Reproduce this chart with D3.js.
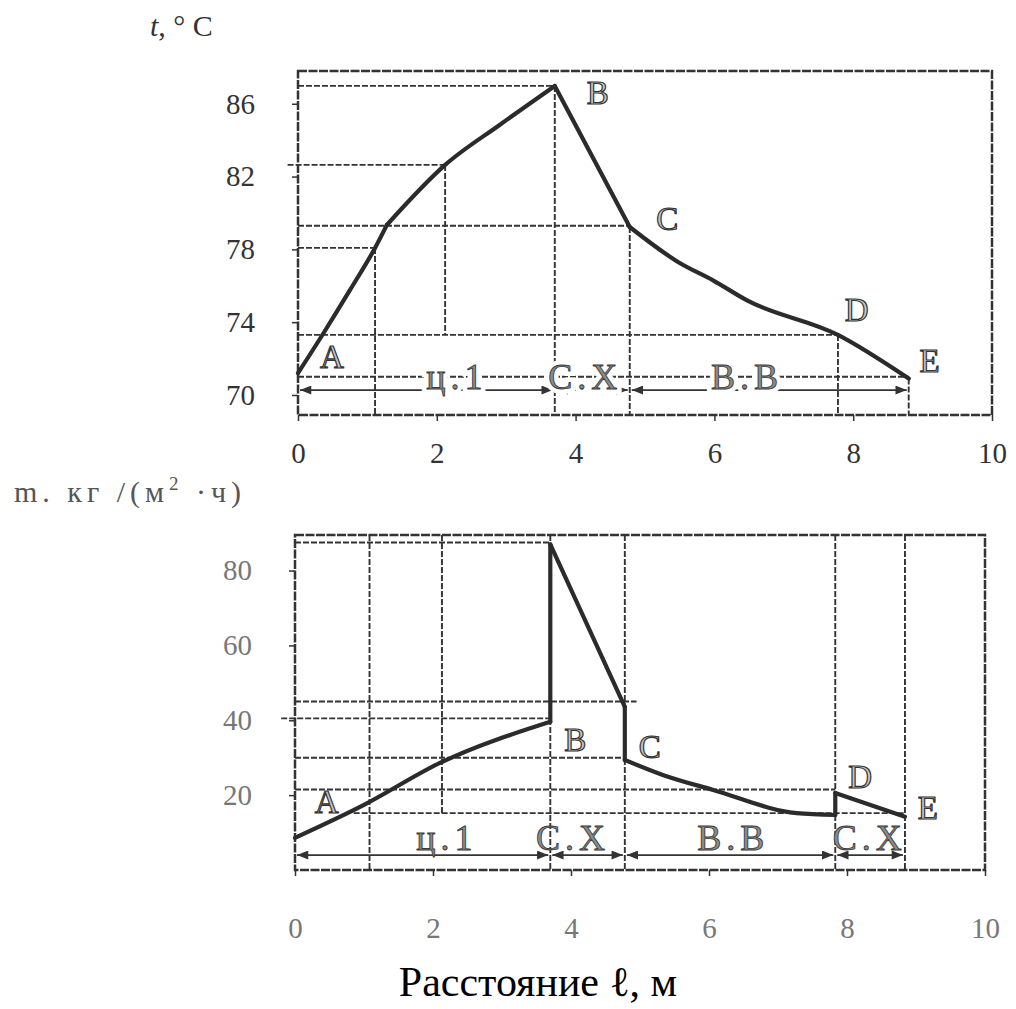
<!DOCTYPE html>
<html>
<head>
<meta charset="utf-8">
<script src="https://cdn.jsdelivr.net/npm/d3@7"></script>
<style>
  body { margin: 0; background: #fff; }
  svg text { font-family: "Liberation Serif", "Times New Roman", serif; }
</style>
</head>
<body>
<svg id="chart" width="1016" height="1009"></svg>
<script>
// distance along the dryer, m
var distTicks = [0, 2, 4, 6, 8, 10];

// upper plot: air temperature, °C
var tempX = [0, 0.36, 0.75, 1.11, 1.28, 2.12, 2.91, 3.7, 4.78, 5.5, 5.98, 6.47, 7.78, 8.8];
var tempY = [71.2, 73.35, 75.77, 78.08, 79.34, 82.64, 84.85, 86.98, 79.23, 77.25, 76.3, 75.2, 73.3, 70.9];
var tempBreaks = [0, 4, 7, 8, 13]; // indices where the curve has a corner
var tempTicks = [70, 74, 78, 82, 86];
// helper lines: [level, from, to]
var tempHLines = [[86.98, 0, 3.7], [82.64, -0.15, 2.12], [79.3, 0, 4.78], [78.08, 0, 1.11], [73.3, 0, 7.78], [71.0, 0, 8.8]];
// helper lines: [x, top, bottom]
var tempVLines = [[1.11, 78.08, 68.9], [2.12, 82.64, 73.3], [3.7, 86.98, 68.9], [4.78, 79.23, 68.9], [7.78, 73.3, 68.9], [8.8, 70.9, 68.9]];
var tempPointNames = ['A', 'B', 'C', 'D', 'E'];
var tempPointX = [0.49, 4.32, 5.32, 8.05, 9.1];
var tempPointY = [72.1, 86.6, 79.7, 74.7, 71.9];
var tempZones = [[0, 3.7], [3.7, 4.78], [4.78, 8.8]];
var tempZoneNames = ['ц.1', 'С.Х', 'В.В'];
var tempZoneX = [2.29, 4.14, 6.47];

// lower plot: evaporation rate m, kg/(m2·h)
var fluxX = [0, 1.0, 2.1, 3.7, 3.7, 4.78, 4.78, 5.33, 6.06, 7.27, 7.83, 7.83, 8.84];
var fluxY = [8.6, 17.4, 28.6, 39.6, 87, 43.6, 29.4, 25.4, 21.4, 15.2, 14.7, 20.6, 14.2];
var fluxBreaks = [0, 3, 4, 5, 6, 10, 11, 12];
var fluxTicks = [20, 40, 60, 80];
var fluxHLines = [[87.5, 0, 3.7], [45, 0, 4.95], [40.5, -0.2, 3.7], [30, 0, 4.78], [21.5, 0, 7.83], [15.2, 0.85, 8.84]];
var fluxVLines = [[1.08, 89.5, 0], [2.13, 89.5, 15.2], [3.7, 89.5, 0], [4.78, 89.5, 0], [7.83, 89.5, 0], [8.84, 89.5, 0]];
var fluxPointNames = ['A', 'B', 'C', 'D', 'E'];
var fluxPointX = [0.46, 4.06, 5.14, 8.19, 9.17];
var fluxPointY = [18.2, 34.8, 32.9, 24.9, 16.8];
var fluxZones = [[0, 3.7], [3.7, 4.78], [4.78, 7.83], [7.83, 8.84]];
var fluxZoneNames = ['ц.1', 'С.Х', 'В.В', 'С.Х'];
var fluxZoneX = [2.2, 4.03, 6.35, 8.33];

var svg = d3.select('#chart');
var ink = '#333';

var defs = svg.append('defs');
[['arrEnd', 'M0,0 L10,4 L0,8 Z'], ['arrStart', 'M10,0 L0,4 L10,8 Z']].forEach(function(m) {
  defs.append('marker').attr('id', m[0])
    .attr('viewBox', '0 0 10 8').attr('refX', m[0] === 'arrEnd' ? 10 : 0).attr('refY', 4)
    .attr('markerWidth', 12).attr('markerHeight', 9).attr('markerUnits', 'userSpaceOnUse')
    .attr('orient', 'auto')
    .append('path').attr('d', m[1]).attr('fill', ink);
});

var drawPanel = function(p) {
  var x = d3.scaleLinear().domain([0, 10]).range([p.left, p.right]);
  var y = d3.scaleLinear().domain(p.yDomain).range([p.bottom, p.top]);
  var g = svg.append('g');

  // helper lines
  g.selectAll('.hl').data(p.hLines).enter().append('line')
    .attr('x1', function(d) { return x(d[1]); }).attr('x2', function(d) { return x(d[2]); })
    .attr('y1', function(d) { return y(d[0]); }).attr('y2', function(d) { return y(d[0]); })
    .attr('stroke', ink).attr('stroke-width', 1.9).attr('stroke-dasharray', '6,2');
  g.selectAll('.vl').data(p.vLines).enter().append('line')
    .attr('x1', function(d) { return x(d[0]); }).attr('x2', function(d) { return x(d[0]); })
    .attr('y1', function(d) { return y(d[1]); }).attr('y2', function(d) { return y(d[2]); })
    .attr('stroke', ink).attr('stroke-width', 1.9).attr('stroke-dasharray', '6,2');

  // dimension line with arrows
  g.selectAll('.zone').data(p.zones).enter().append('line')
    .attr('x1', function(d) { return x(d[0]) + 2; }).attr('x2', function(d) { return x(d[1]) - 2; })
    .attr('y1', y(p.dimLevel)).attr('y2', y(p.dimLevel))
    .attr('stroke', ink).attr('stroke-width', 1.8)
    .attr('marker-start', 'url(#arrStart)').attr('marker-end', 'url(#arrEnd)');

  // frame
  g.append('rect').attr('x', p.left).attr('y', p.top)
    .attr('width', p.right - p.left).attr('height', p.bottom - p.top)
    .attr('fill', 'none').attr('stroke', ink).attr('stroke-width', 2.5)
    .attr('stroke-dasharray', '9,1.5');

  // the curve, smooth between corners
  var pts = p.xs.map(function(v, i) { return [x(v), y(p.ys[i])]; });
  var line = d3.line().curve(d3.curveMonotoneX);
  var pieces = d3.pairs(p.breaks).map(function(b) { return pts.slice(b[0], b[1] + 1); });
  g.selectAll('.piece').data(pieces).enter().append('path')
    .attr('d', line)
    .attr('fill', 'none').attr('stroke', '#2b2b2b').attr('stroke-width', 4.2)
    .attr('stroke-linecap', 'round').attr('stroke-linejoin', 'round');

  // axes
  var xAxis = g.append('g').attr('transform', 'translate(0,' + p.bottom + ')')
    .call(d3.axisBottom(x).tickValues(distTicks).tickSize(6).tickPadding(p.xPad));
  var yAxis = g.append('g').attr('transform', 'translate(' + p.left + ',0)')
    .call(d3.axisLeft(y).tickValues(p.yTicks).tickSize(6).tickPadding(37));
  [xAxis, yAxis].forEach(function(a) {
    a.select('.domain').remove();
    a.selectAll('line').attr('stroke', ink).attr('stroke-width', 1.5);
    a.attr('font-family', null).attr('font-size', null);
    a.selectAll('text').attr('font-size', 29).attr('fill', p.tickColor);
  });

  // zone names
  var zl = g.selectAll('.zn').data(p.zoneNames).enter().append('g')
    .attr('transform', function(d, i) { return 'translate(' + x(p.zoneX[i]) + ',' + y(p.zoneLevel) + ')'; });
  if (p.halo) {
    zl.append('text').text(function(d) { return d; })
      .attr('text-anchor', 'middle').attr('dy', '0.35em').attr('font-size', 36)
      .attr('letter-spacing', 5).attr('fill', '#fff').attr('stroke', '#fff').attr('stroke-width', 10);
  }
  zl.append('text').text(function(d) { return d; })
    .attr('text-anchor', 'middle').attr('dy', '0.35em').attr('font-size', 36)
    .attr('letter-spacing', 5).attr('fill', '#8c8c8c').attr('stroke', '#3a3a3a').attr('stroke-width', 0.9);

  // point letters
  g.selectAll('.pt').data(p.pointNames).enter().append('text')
    .text(function(d) { return d; })
    .attr('x', function(d, i) { return x(p.pointX[i]); })
    .attr('y', function(d, i) { return y(p.pointY[i]); })
    .attr('text-anchor', 'middle').attr('dy', '0.35em').attr('font-size', 33)
    .attr('fill', '#c8c8c8').attr('stroke', '#333').attr('stroke-width', 1.2);
};

drawPanel({
  left: 298, right: 992, top: 71, bottom: 415,
  yDomain: [68.9, 87.8], yTicks: tempTicks, xPad: 21, tickColor: '#333',
  xs: tempX, ys: tempY, breaks: tempBreaks, hLines: tempHLines, vLines: tempVLines,
  zones: tempZones, dimLevel: 70.27, zoneNames: tempZoneNames, zoneX: tempZoneX, zoneLevel: 71.0, halo: true,
  pointNames: tempPointNames, pointX: tempPointX, pointY: tempPointY
});

drawPanel({
  left: 295, right: 985, top: 535, bottom: 870,
  yDomain: [0, 89.5], yTicks: fluxTicks, xPad: 41, tickColor: '#777',
  xs: fluxX, ys: fluxY, breaks: fluxBreaks, hLines: fluxHLines, vLines: fluxVLines,
  zones: fluxZones, dimLevel: 4.0, zoneNames: fluxZoneNames, zoneX: fluxZoneX, zoneLevel: 8.8, halo: false,
  pointNames: fluxPointNames, pointX: fluxPointX, pointY: fluxPointY
});

// axis titles
var tTitle = svg.append('text').attr('x', 150).attr('y', 36).attr('font-size', 30).attr('fill', '#333');
tTitle.append('tspan').attr('font-style', 'italic').text('t');
tTitle.append('tspan').text(', ° C');

var mTitle = svg.append('text').attr('x', 14).attr('y', 502).attr('font-size', 30)
  .attr('fill', '#555').attr('letter-spacing', 5);
mTitle.append('tspan').text('m. кг /(м');
mTitle.append('tspan').attr('dy', -12).attr('font-size', 19).text('2');
mTitle.append('tspan').attr('dy', 12).text(' ·ч)');

svg.append('text').attr('x', 538).attr('y', 996).attr('text-anchor', 'middle')
  .attr('font-size', 42).attr('fill', '#000').text('Расстояние ℓ, м');
</script>
</body>
</html>
